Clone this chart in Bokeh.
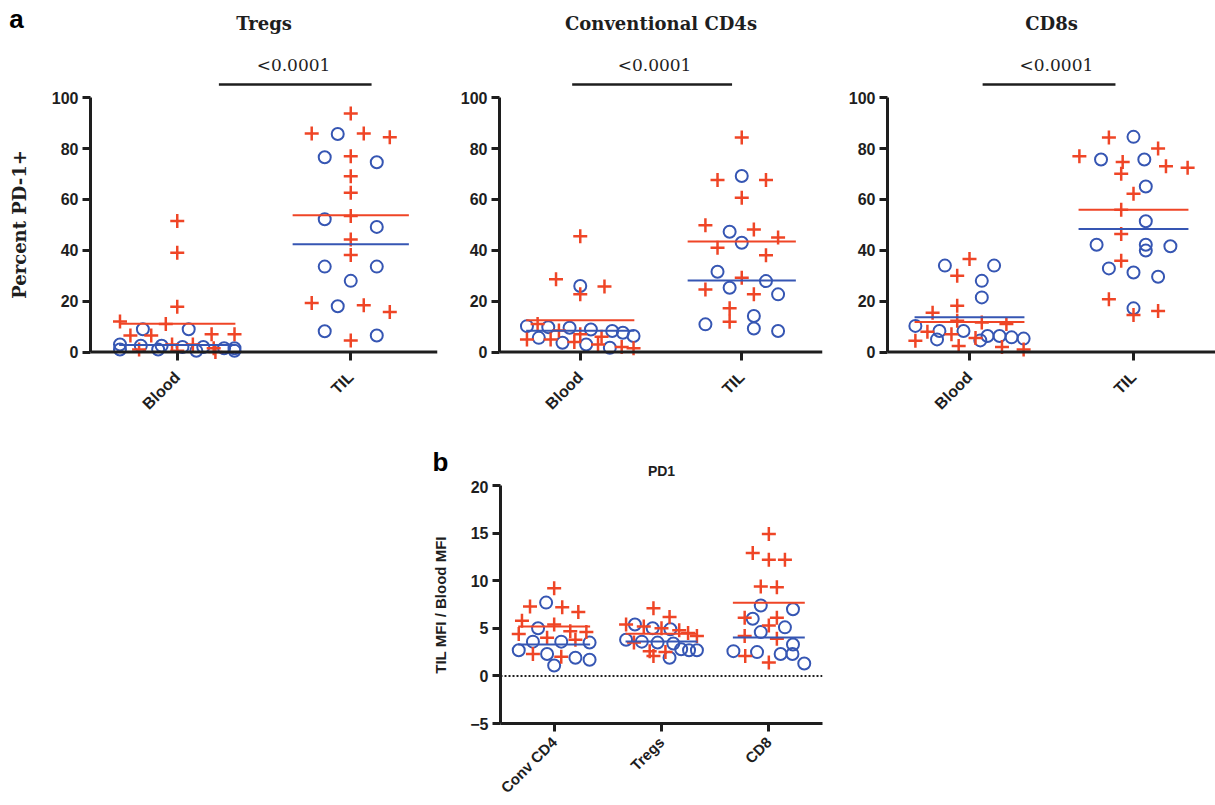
import math
import numpy as np
from bokeh.plotting import figure
from bokeh.layouts import column, row
from bokeh.models import Range1d, FixedTicker, Span, Spacer
from bokeh.core.properties import value
from bokeh.embed import file_html
from bokeh.resources import INLINE

# ------------------------------------------------------------------ data
panel_a_titles = ["Tregs", "Conventional CD4s", "CD8s"]
groups_a = ["Blood", "TIL"]
pvalues_a = ["<0.0001", "<0.0001", "<0.0001"]
ylabel_a = "Percent PD-1+"
yticks_a = [0, 20, 40, 60, 80, 100]

tregs_blood_red = [51.5, 39, 17.8, 12, 11, 7, 7, 6.5, 6.5, 3, 1, 0.5, 0, 1.5, 3]
tregs_blood_blue = [9, 9, 3, 2.5, 2, 1.5, 1, 0.5, 0.5, 1, 1.5, 2, 2.5]
tregs_til_red = [85.9, 77.0, 84.4, 85.9, 93.75, 69.1, 62.6, 53.5, 44.3, 38.2, 19.3, 15.8, 18.4, 4.6]
tregs_til_blue = [85.7, 74.6, 76.6, 49.2, 52.2, 33.6, 28.0, 33.6, 18.0, 8.2, 6.5]

cd4_blood_red = [45.5, 28.6, 25.8, 22.7, 11, 6, 5, 2, 1.5, 3, 4, 5, 7, 8.5]
cd4_blood_blue = [26, 10.2, 9.8, 9.6, 8.9, 8.3, 7.6, 5.6, 6.3, 3.7, 3.0, 1.7]
cd4_til_red = [84.3, 67.6, 67.6, 60.7, 49.9, 48.2, 45.0, 41.0, 38.1, 29.2, 22.7, 24.6, 17.2, 11.9]
cd4_til_blue = [69.2, 47.3, 43.0, 25.3, 22.7, 27.9, 31.6, 14.2, 10.9, 8.3, 9.3]

cd8_blood_red = [36.6, 30, 18.2, 15.5, 12.3, 11, 11.6, 8, 2.4, 1, 2, 4.5, 5.5, 7]
cd8_blood_blue = [34, 34, 28, 21.5, 10.3, 8.3, 6.3, 5.8, 5.3, 5.0, 4.6, 6.3, 8.3]
cd8_til_red = [84.3, 77.0, 80.0, 73.0, 70.1, 72.5, 74.7, 62.2, 55.9, 46.4, 35.9, 20.8, 14.6, 16.2]
cd8_til_blue = [84.6, 75.7, 75.7, 65.1, 51.4, 42.2, 39.9, 41.6, 42.2, 31.3, 29.6, 32.9, 17.2]

panel_b_title = "PD1"
groups_b = ["Conv CD4", "Tregs", "CD8"]
ylabel_b = "TIL MFI / Blood MFI"
yticks_b = [-5, 0, 5, 10, 15, 20]
conv_red = [9.2, 7.3, 6.7, 7.2, 5.8, 5.4, 4.7, 4.0, 3.8, 4.4, 4.6, 2.3, 2.0]
conv_blue = [7.7, 5.0, 3.6, 3.6, 3.5, 2.7, 1.1, 1.7, 1.9, 2.3]
tregsb_red = [7.1, 6.2, 5.4, 5.2, 5.0, 4.8, 4.5, 4.2, 3.5, 2.6, 2.1, 2.5]
tregsb_blue = [5.4, 5.0, 4.9, 3.8, 3.6, 3.5, 3.4, 2.8, 2.7, 2.7, 1.9]
cd8b_red = [14.9, 12.9, 12.2, 12.2, 9.4, 9.3, 6.1, 6.1, 5.3, 4.2, 3.9, 2.1, 1.4]
cd8b_blue = [7.4, 7.0, 6.0, 5.1, 4.6, 3.3, 2.3, 2.6, 2.3, 2.5, 1.3]

panel_letters = ["a", "b"]

# ------------------------------------------------------------------ style / layout
RED = "#EF4526"
BLUE = "#3656B3"
BG = "#FFFFFF"
INK = "#1e1e1e"
SANS = "Liberation Sans"
SERIF = "DejaVu Serif"
HALF = 0.335              # half width of the mean lines (category units)
PAGE_W = 1215
STRIP_A = 45              # band holding letter "a" and the panel titles
H_A, BOT_A = 385, 70      # panel-a figures (below the strip)
Y_LO, Y_HI = -3.3, 120.5
LEFT_A = 40
GEOM_A = [(407, 50, 10), (383, 52, 8), (385, 57, 0)]   # (width, left border, right border)
STRIP_B = 50
H_B, TOP_B, BOT_B = 325, 5, 81
LEFT_B = 460
WB, BLB, BRB = 382, 40, 20


def swarm(red, blue, xpx, ypx, row_h=13.0):
    """Prism-like row layout; returns x offsets (category units)."""
    smax = 0.15 * xpx
    wmax = 0.66 * xpx
    pts = [(v, 0, i) for i, v in enumerate(red)] + [(v, 1, i) for i, v in enumerate(blue)]
    pts.sort(key=lambda t: -t[0])
    rows = []
    for p in pts:
        if rows and (rows[-1][0][0] - p[0]) * ypx <= row_h:
            rows[-1].append(p)
        else:
            rows.append([p])
    offs = [np.zeros(len(red)), np.zeros(len(blue))]
    for r in rows:
        reds = [p for p in r if p[1] == 0]
        blues = [p for p in r if p[1] == 1]
        a, b = (reds, blues) if len(reds) >= len(blues) else (blues, reds)
        order = []
        for k in range(max(len(a), len(b))):
            if k < len(a):
                order.append(a[k])
            if k < len(b):
                order.append(b[k])
        n = len(order)
        s = 0 if n == 1 else min(smax, wmax / (n - 1))
        for k, p in enumerate(order):
            offs[p[1]][p[2]] = (k - (n - 1) / 2) * s / xpx
    return offs


def draw_groups(p, series, xpx, ypx):
    for i, (red, blue) in enumerate(series):
        ro, bo = swarm(red, blue, xpx, ypx)
        p.scatter(i + bo, blue, marker="circle", size=12, fill_color=None,
                  line_color=BLUE, line_width=2)
        p.scatter(i + ro, red, marker="cross", size=14, line_color=RED, line_width=2.5)
    for i, (red, blue) in enumerate(series):
        mr, mb = float(np.mean(red)), float(np.mean(blue))
        p.segment(x0=[i - HALF], x1=[i + HALF], y0=[mr], y1=[mr], line_color=RED, line_width=2)
        p.segment(x0=[i - HALF], x1=[i + HALF], y0=[mb], y1=[mb], line_color=BLUE, line_width=2)


def style_axes(p, yticks, labels, xsize):
    yax = p.yaxis[0]
    yax.ticker = FixedTicker(ticks=yticks)
    yax.minor_tick_line_color = None
    yax.major_tick_out = 8
    yax.major_tick_in = 0
    yax.axis_line_width = 3
    yax.major_tick_line_width = 3
    yax.axis_line_color = INK
    yax.major_tick_line_color = INK
    yax.major_label_text_font = SANS
    yax.major_label_text_font_style = "bold"
    yax.major_label_text_font_size = "16px"
    yax.major_label_text_color = INK
    yax.major_label_standoff = 4
    xax = p.xaxis[0]
    xax.ticker = FixedTicker(ticks=list(range(len(labels))))
    xax.major_label_overrides = {i: lab for i, lab in enumerate(labels)}
    xax.minor_tick_line_color = None
    xax.major_tick_line_width = 3
    xax.major_tick_line_color = INK
    xax.major_label_orientation = math.pi / 4
    xax.major_label_text_font = SANS
    xax.major_label_text_font_style = "bold"
    xax.major_label_text_font_size = xsize
    xax.major_label_text_color = INK


def canvas(W, H, y_top, top=0, bottom=0):
    """Plain drawing area whose data coordinates equal page pixels."""
    f = figure(width=W, height=H, x_range=Range1d(0, W),
               y_range=Range1d(y_top + H - bottom, y_top + top),
               x_axis_type=None, y_axis_type=None, output_backend="svg", toolbar_location=None,
               min_border_left=0, min_border_right=0, min_border_top=top,
               min_border_bottom=bottom, background_fill_color=BG, border_fill_color=BG,
               outline_line_color=None)
    f.grid.visible = False
    return f


def panel_a(series, pval, W, bl, br, bracket):
    fw = W - bl - br
    fh = H_A - BOT_A
    p = figure(width=W, height=H_A, x_range=Range1d(-0.5, 1.5), y_range=Range1d(Y_LO, Y_HI),
               output_backend="svg", toolbar_location=None,
               min_border_left=bl, min_border_right=br, min_border_top=0,
               min_border_bottom=BOT_A, background_fill_color=BG, border_fill_color=BG,
               outline_line_color=None)
    p.grid.visible = False
    style_axes(p, yticks_a, groups_a, "16px")
    p.yaxis[0].bounds = (0, 100)
    p.xaxis[0].axis_line_color = None
    p.xaxis[0].major_tick_in = 8
    p.xaxis[0].major_tick_out = 0
    p.xaxis[0].major_label_standoff = 14
    p.add_layout(Span(location=0, dimension="width", line_color=INK, line_width=3))
    draw_groups(p, series, fw / 2.0, fh / (Y_HI - Y_LO))
    bx0, bx1, tx = bracket
    p.segment(x0=[bx0], x1=[bx1], y0=[105.2], y1=[105.2], line_color=INK, line_width=2.5)
    p.text(x=[tx], y=[112.7], text=[pval], text_align="center", text_baseline="middle",
           text_font=value(SERIF), text_font_size="17px", text_color=INK)
    return p


# ------------------------------------------------------------------ panel a
strip_a = canvas(PAGE_W, STRIP_A, 0)
strip_a.text(x=[16], y=[18], text=[panel_letters[0]], text_align="center",
             text_baseline="middle", text_font=value(SANS), text_font_style="bold",
             text_font_size="26px", text_color="black")
x0 = LEFT_A
centers = []
for (W, bl, br) in GEOM_A:
    centers.append(x0 + bl + (W - bl - br) / 2.0)
    x0 += W
strip_a.text(x=centers, y=[23] * 3, text=panel_a_titles, text_align="center",
             text_baseline="middle", text_font=value(SERIF), text_font_style="bold",
             text_font_size="18px", text_color=INK)

fa = canvas(LEFT_A, H_A, STRIP_A, 0, BOT_A)
fa.text(x=[19], y=[224], text=[ylabel_a], angle=math.pi / 2, text_align="center",
        text_baseline="middle", text_font=value(SERIF), text_font_style="bold",
        text_font_size="18px", text_color=INK)

all_series = [
    [(tregs_blood_red, tregs_blood_blue), (tregs_til_red, tregs_til_blue)],
    [(cd4_blood_red, cd4_blood_blue), (cd4_til_red, cd4_til_blue)],
    [(cd8_blood_red, cd8_blood_blue), (cd8_til_red, cd8_til_blue)],
]
brackets = [(0.24, 1.12, 0.67), (-0.05, 0.94, 0.46), (0.08, 0.89, 0.53)]
panels = [panel_a(s, pv, W, bl, br, bk)
          for s, pv, (W, bl, br), bk in zip(all_series, pvalues_a, GEOM_A, brackets)]

# ------------------------------------------------------------------ panel b
y_b0 = STRIP_A + H_A
strip_b = canvas(PAGE_W, STRIP_B, y_b0)
strip_b.text(x=[440], y=[461], text=[panel_letters[1]], text_align="center",
             text_baseline="middle", text_font=value(SANS), text_font_style="bold",
             text_font_size="26px", text_color="black")
strip_b.text(x=[LEFT_B + BLB + (WB - BLB - BRB) / 2.0], y=[470], text=[panel_b_title],
             text_align="center", text_baseline="middle", text_font=value(SANS),
             text_font_style="bold", text_font_size="14px", text_color=INK)

fb = canvas(LEFT_B, H_B, y_b0 + STRIP_B, TOP_B, BOT_B)
fb.text(x=[440], y=[605], text=[ylabel_b], angle=math.pi / 2, text_align="center",
        text_baseline="middle", text_font=value(SANS), text_font_style="bold",
        text_font_size="15px", text_color=INK)

pb = figure(width=WB, height=H_B, x_range=Range1d(-0.5, 2.5), y_range=Range1d(-5, 20),
            output_backend="svg", toolbar_location=None,
            min_border_left=BLB, min_border_right=BRB, min_border_top=TOP_B,
            min_border_bottom=BOT_B, background_fill_color=BG, border_fill_color=BG,
            outline_line_color=None)
pb.grid.visible = False
style_axes(pb, yticks_b, groups_b, "15px")
pb.xaxis[0].axis_line_width = 3
pb.xaxis[0].axis_line_color = INK
pb.xaxis[0].major_tick_out = 8
pb.xaxis[0].major_tick_in = 0
pb.xaxis[0].major_label_standoff = 8
pb.add_layout(Span(location=0, dimension="width", line_color=INK, line_width=2, line_dash="2 2"))
fwb = WB - BLB - BRB
fhb = H_B - TOP_B - BOT_B
draw_groups(pb, [(conv_red, conv_blue), (tregsb_red, tregsb_blue), (cd8b_red, cd8b_blue)],
            fwb / 3.0, fhb / 25.0)

right_pad = Spacer(width=PAGE_W - LEFT_B - WB, height=H_B, styles={"background-color": BG})

layout = column(strip_a,
                row(fa, *panels, spacing=0),
                strip_b,
                row(fb, pb, right_pad, spacing=0),
                spacing=0)

open("out.html", "w").write(file_html(layout, INLINE))
